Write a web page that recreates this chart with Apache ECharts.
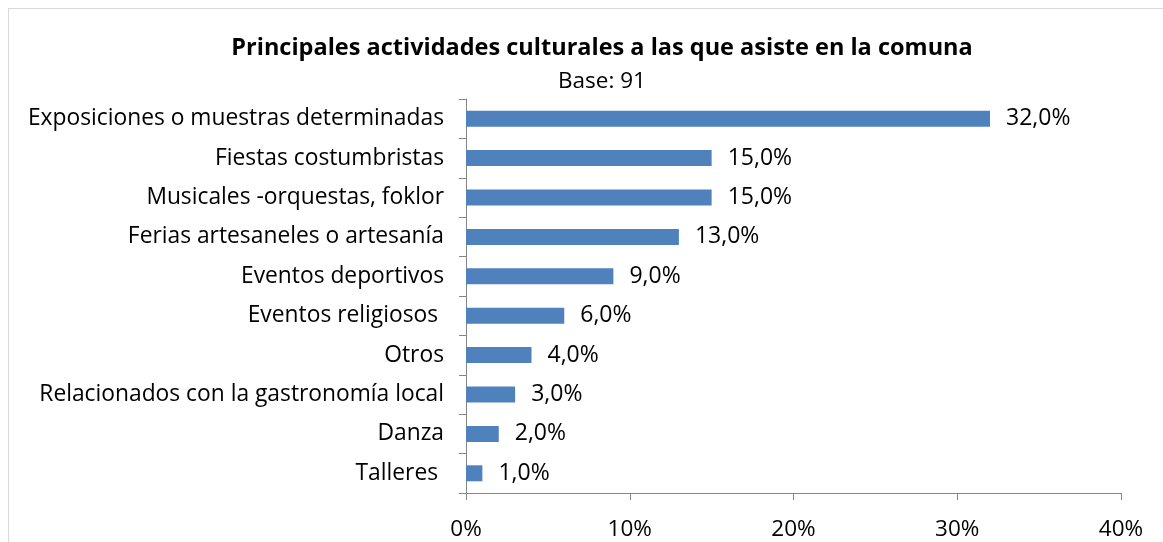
<!DOCTYPE html>
<html>
<head>
<meta charset="utf-8">
<script src="https://cdn.jsdelivr.net/npm/echarts@6/dist/echarts.min.js"></script>
<style>
  html, body { margin: 0; padding: 0; background: #fff; }
  #main { width: 1163px; height: 542px; position: relative; }
  #frame { position: absolute; left: 8px; top: 8px; width: 1170px; height: 560px; border: 1px solid #d9d9d9; box-sizing: border-box; pointer-events: none; }
</style>
</head>
<body>
<div id="main"></div>
<div id="frame"></div>
<script>
// categorias (de abajo hacia arriba)
var categories = ['Talleres ', 'Danza', 'Relacionados con la gastronomía local', 'Otros', 'Eventos religiosos ',
  'Eventos deportivos', 'Ferias artesaneles o artesanía', 'Musicales -orquestas, foklor', 'Fiestas costumbristas',
  'Exposiciones o muestras determinadas'];
var values = [1, 2, 3, 4, 6, 9, 13, 15, 15, 32];
var xTicks = [0, 10, 20, 30, 40];

var font = '"Open Sans", "Noto Sans", sans-serif';
var myChart = echarts.init(document.getElementById('main'));
var option = {
  animation: false,
  title: {
    text: 'Principales actividades culturales a las que asiste en la comuna',
    subtext: 'Base: 91',
    left: 597,
    textAlign: 'center',
    top: 31,
    itemGap: 10,
    textStyle: { fontFamily: font, fontSize: 23.5, fontWeight: 'bold', color: '#000' },
    subtextStyle: { fontFamily: font, fontSize: 22.5, color: '#000' }
  },
  grid: { left: 466, right: 42, top: 99, bottom: 49 },
  xAxis: {
    type: 'value',
    min: xTicks[0],
    max: xTicks[xTicks.length - 1],
    interval: 10,
    splitLine: { show: false },
    axisLine: { show: true, lineStyle: { color: '#868686', width: 1 } },
    axisTick: { show: true, length: 7, lineStyle: { color: '#868686' } },
    axisLabel: { formatter: '{value}%', fontFamily: font, fontSize: 22.5, color: '#000', margin: 25 }
  },
  yAxis: {
    type: 'category',
    data: categories,
    axisLine: { show: true, lineStyle: { color: '#868686', width: 1 } },
    axisTick: { show: true, length: 7, lineStyle: { color: '#868686' } },
    axisLabel: { fontFamily: font, fontSize: 22.8, color: '#000', margin: 22 }
  },
  series: [{
    type: 'bar',
    data: values,
    barWidth: 16,
    itemStyle: { color: '#4F81BD' },
    label: {
      show: true,
      position: 'right',
      distance: 16,
      fontFamily: font,
      fontSize: 23,
      color: '#000',
      formatter: function (p) { return p.value.toFixed(1).replace('.', ',') + '%'; }
    }
  }]
};
myChart.setOption(option);
</script>
</body>
</html>
